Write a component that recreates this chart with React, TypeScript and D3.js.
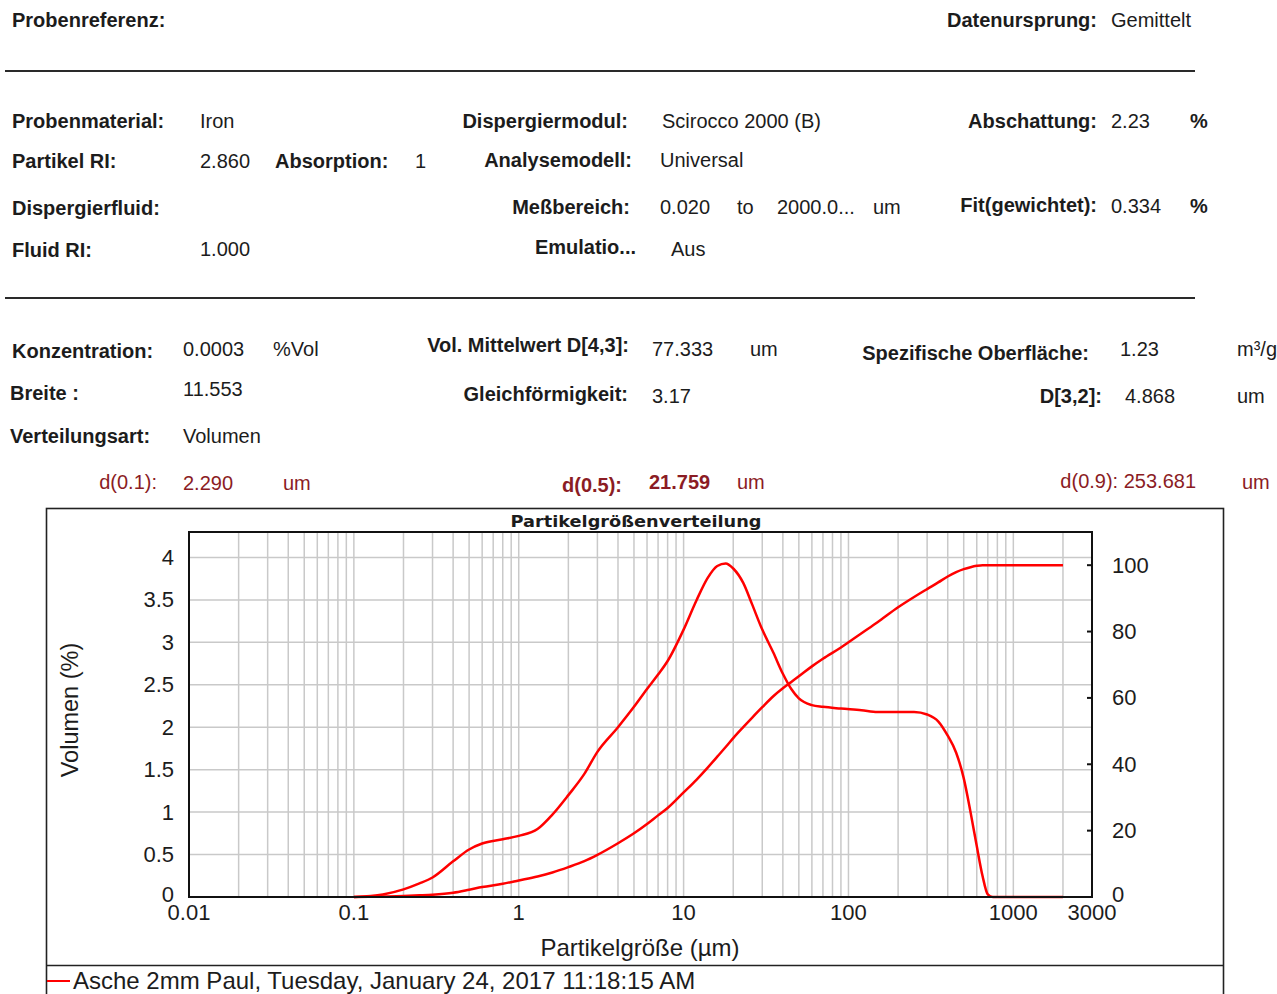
import React from "react";
import * as d3 from "d3";

// Particle size classes (µm) and the measured volume distribution
const sizes = [
  0.1, 0.15, 0.2, 0.25, 0.3, 0.4, 0.5, 0.6, 0.8, 1.0, 1.3, 1.6, 2.0, 2.5, 3.0,
  4.0, 5.0, 6.0, 7.0, 8.0, 10, 12, 14, 16, 18, 20, 23, 26, 30, 35, 40, 45, 50,
  60, 70, 90, 120, 150, 200, 250, 300, 350, 400, 450, 500, 550, 600, 650, 700,
  750, 1000, 2000,
];

// Volume density (%) per size class
const volumeDensity = [
  0, 0.03, 0.09, 0.16, 0.23, 0.42, 0.56, 0.63, 0.68, 0.72, 0.8, 0.97, 1.2,
  1.45, 1.71, 2.0, 2.24, 2.45, 2.62, 2.78, 3.15, 3.5, 3.76, 3.9, 3.93, 3.87,
  3.7, 3.45, 3.15, 2.88, 2.63, 2.45, 2.34, 2.26, 2.24, 2.22, 2.2, 2.18, 2.18,
  2.18, 2.15, 2.07, 1.9, 1.7, 1.4, 1.0, 0.6, 0.25, 0.03, 0, 0, 0,
];

// Cumulative volume undersize (%)
const volumeCumulative = [
  0, 0.15, 0.3, 0.5, 0.7, 1.3, 2.2, 3.0, 4.0, 5.0, 6.2, 7.4, 9.0, 10.8, 12.7,
  16.2, 19.2, 22.0, 24.6, 26.8, 31.5, 35.4, 39.0, 42.3, 45.2, 47.9, 51.2, 54.0,
  57.2, 60.5, 62.9, 64.8, 66.5, 69.5, 71.8, 75.2, 79.5, 82.8, 87.3, 90.4, 92.8,
  94.8, 96.6, 97.9, 98.8, 99.4, 99.8, 100, 100, 100, 100, 100,
];

const leftTicks = [0, 0.5, 1, 1.5, 2, 2.5, 3, 3.5, 4];
const rightTicks = [0, 20, 40, 60, 80, 100];
const sizeTicks = [0.01, 0.1, 1, 10, 100, 1000, 3000];
const sizeTickLabels = ["0.01", "0.1", "1", "10", "100", "1000", "3000"];

const legendLabel = "Asche 2mm Paul, Tuesday, January 24, 2017 11:18:15 AM";

const FONT = "'Liberation Sans', Arial, sans-serif";
const INK = "#1c1c1c";
const DARKRED = "#8b1c24";

type HeaderItem = {
  t: string;
  x: number;
  y: number;
  b?: boolean;
  end?: boolean;
  c?: string;
};

const header: HeaderItem[] = [
  { t: "Probenreferenz:", x: 12, y: 20, b: true },
  { t: "Datenursprung:", x: 1097, y: 20, b: true, end: true },
  { t: "Gemittelt", x: 1111, y: 20 },

  { t: "Probenmaterial:", x: 12, y: 121, b: true },
  { t: "Iron", x: 200, y: 121 },
  { t: "Dispergiermodul:", x: 628, y: 121, b: true, end: true },
  { t: "Scirocco 2000 (B)", x: 662, y: 121 },
  { t: "Abschattung:", x: 1097, y: 121, b: true, end: true },
  { t: "2.23", x: 1111, y: 121 },
  { t: "%", x: 1190, y: 121, b: true },

  { t: "Partikel RI:", x: 12, y: 161, b: true },
  { t: "2.860", x: 200, y: 161 },
  { t: "Absorption:", x: 275, y: 161, b: true },
  { t: "1", x: 415, y: 161 },
  { t: "Analysemodell:", x: 632, y: 160, b: true, end: true },
  { t: "Universal", x: 660, y: 160 },

  { t: "Dispergierfluid:", x: 12, y: 208, b: true },
  { t: "Meßbereich:", x: 630, y: 207, b: true, end: true },
  { t: "0.020", x: 660, y: 207 },
  { t: "to", x: 737, y: 207 },
  { t: "2000.0...", x: 777, y: 207 },
  { t: "um", x: 873, y: 207 },
  { t: "Fit(gewichtet):", x: 1097, y: 205, b: true, end: true },
  { t: "0.334", x: 1111, y: 206 },
  { t: "%", x: 1190, y: 206, b: true },

  { t: "Fluid RI:", x: 12, y: 250, b: true },
  { t: "1.000", x: 200, y: 249 },
  { t: "Emulatio...", x: 636, y: 247, b: true, end: true },
  { t: "Aus", x: 671, y: 249 },

  { t: "Konzentration:", x: 12, y: 351, b: true },
  { t: "0.0003", x: 183, y: 349 },
  { t: "%Vol", x: 273, y: 349 },
  { t: "Vol. Mittelwert D[4,3]:", x: 629, y: 345, b: true, end: true },
  { t: "77.333", x: 652, y: 349 },
  { t: "um", x: 750, y: 349 },
  { t: "Spezifische Oberfläche:", x: 1089, y: 353, b: true, end: true },
  { t: "1.23", x: 1120, y: 349 },
  { t: "m³/g", x: 1237, y: 349 },

  { t: "Breite :", x: 10, y: 393, b: true },
  { t: "11.553", x: 183, y: 389 },
  { t: "Gleichförmigkeit:", x: 628, y: 394, b: true, end: true },
  { t: "3.17", x: 652, y: 396 },
  { t: "D[3,2]:", x: 1102, y: 396, b: true, end: true },
  { t: "4.868", x: 1125, y: 396 },
  { t: "um", x: 1237, y: 396 },

  { t: "Verteilungsart:", x: 10, y: 436, b: true },
  { t: "Volumen", x: 183, y: 436 },

  { t: "d(0.1):", x: 157, y: 482, end: true, c: DARKRED },
  { t: "2.290", x: 183, y: 483, c: DARKRED },
  { t: "um", x: 283, y: 483, c: DARKRED },
  { t: "d(0.5):", x: 622, y: 485, b: true, end: true, c: DARKRED },
  { t: "21.759", x: 649, y: 482, b: true, c: DARKRED },
  { t: "um", x: 737, y: 482, c: DARKRED },
  { t: "d(0.9): 253.681", x: 1196, y: 481, end: true, c: DARKRED },
  { t: "um", x: 1242, y: 482, c: DARKRED },
];

export default function App() {
  const W = 1277;
  const H = 994;

  const plot = { left: 189, right: 1092, top: 532, bottom: 897 };

  const x = d3.scaleLog().domain([0.01, 3000]).range([plot.left, plot.right]);
  const yL = d3.scaleLinear().domain([0, 4.3]).range([plot.bottom, plot.top]);
  const yR = d3.scaleLinear().domain([0, 110]).range([plot.bottom, plot.top]);

  // minor + major vertical gridlines: 1..9 × 10^n
  const gridX: number[] = [];
  for (let e = -2; e <= 3; e++) {
    for (let k = 1; k <= 9; k++) {
      const v = k * Math.pow(10, e);
      if (v > 0.01 && v < 3000) gridX.push(v);
    }
  }
  const gridY = leftTicks.filter((v) => v > 0);

  const densityLine = d3
    .line<number>()
    .x((_, i) => x(sizes[i]))
    .y((d) => yL(d))
    .curve(d3.curveMonotoneX);
  const cumLine = d3
    .line<number>()
    .x((_, i) => x(sizes[i]))
    .y((d) => yR(d))
    .curve(d3.curveMonotoneX);

  return (
    <svg
      width={W}
      height={H}
      viewBox={`0 0 ${W} ${H}`}
      style={{ position: "absolute", left: 0, top: 0, background: "#fff" }}
      fontFamily={FONT}
    >
      <rect x={0} y={0} width={W} height={H} fill="#fff" />

      {/* report header */}
      {header.map((h, i) => (
        <text
          key={i}
          x={h.x}
          y={h.y}
          dominantBaseline="central"
          textAnchor={h.end ? "end" : "start"}
          fontWeight={h.b ? 700 : 400}
          fontSize={20}
          fill={h.c ?? INK}
        >
          {h.t}
        </text>
      ))}
      <line x1={5} x2={1195} y1={71} y2={71} stroke="#2a2a2a" strokeWidth={2} />
      <line x1={5} x2={1195} y1={298} y2={298} stroke="#2a2a2a" strokeWidth={2} />

      {/* chart frame */}
      <rect
        x={46.5}
        y={508.5}
        width={1177}
        height={500}
        fill="none"
        stroke="#222"
        strokeWidth={1.6}
      />
      <line x1={46} x2={1224} y1={965.5} y2={965.5} stroke="#222" strokeWidth={1.6} />

      <text
        x={636}
        y={521}
        dominantBaseline="central"
        textAnchor="middle"
        fontFamily="'DejaVu Sans', Verdana, sans-serif"
        fontWeight={700}
        fontSize={16.5}
        textLength={251}
        lengthAdjust="spacingAndGlyphs"
        fill={INK}
      >
        Partikelgrößenverteilung
      </text>

      {/* grid */}
      <g stroke="#c9c9c9" strokeWidth={1.5}>
        {gridX.map((v) => (
          <line key={`gx${v}`} x1={x(v)} x2={x(v)} y1={plot.top} y2={plot.bottom} />
        ))}
        {gridY.map((v) => (
          <line key={`gy${v}`} x1={plot.left} x2={plot.right} y1={yL(v)} y2={yL(v)} />
        ))}
      </g>

      {/* series */}
      <path
        d={densityLine(volumeDensity) ?? ""}
        fill="none"
        stroke="#ff0000"
        strokeWidth={2.5}
        strokeLinejoin="round"
      />
      <path
        d={cumLine(volumeCumulative) ?? ""}
        fill="none"
        stroke="#ff0000"
        strokeWidth={2.5}
        strokeLinejoin="round"
      />

      {/* plot border */}
      <rect
        x={plot.left}
        y={plot.top}
        width={plot.right - plot.left}
        height={plot.bottom - plot.top}
        fill="none"
        stroke="#111"
        strokeWidth={2}
      />

      {/* left axis */}
      {leftTicks.map((v) => (
        <text
          key={`l${v}`}
          x={174}
          y={yL(v) - (v === 0 ? 3 : 0)}
          dominantBaseline="central"
          textAnchor="end"
          fontSize={22}
          fill={INK}
        >
          {String(v)}
        </text>
      ))}

      {/* right axis */}
      {rightTicks.map((v) => (
        <g key={`r${v}`}>
          <line
            x1={plot.right - 5}
            x2={plot.right}
            y1={yR(v)}
            y2={yR(v)}
            stroke="#111"
            strokeWidth={2}
          />
          <text
            x={1112}
            y={yR(v) - (v === 0 ? 3 : 0)}
            dominantBaseline="central"
            textAnchor="start"
            fontSize={22}
            fill={INK}
          >
            {String(v)}
          </text>
        </g>
      ))}

      {/* size axis */}
      {sizeTicks.map((v, i) => (
        <text
          key={`x${v}`}
          x={x(v)}
          y={912}
          dominantBaseline="central"
          textAnchor="middle"
          fontSize={22}
          fill={INK}
        >
          {sizeTickLabels[i]}
        </text>
      ))}

      <text
        x={640}
        y={947}
        dominantBaseline="central"
        textAnchor="middle"
        fontSize={24}
        fill={INK}
      >
        Partikelgröße (µm)
      </text>
      <text
        transform="translate(70,710) rotate(-90)"
        dominantBaseline="central"
        textAnchor="middle"
        fontSize={23.5}
        fill={INK}
      >
        Volumen (%)
      </text>

      {/* legend */}
      <line x1={47} x2={70} y1={981} y2={981} stroke="#ff0000" strokeWidth={2} />
      <text x={73} y={980} dominantBaseline="central" fontSize={24} fill={INK}>
        {legendLabel}
      </text>
    </svg>
  );
}
